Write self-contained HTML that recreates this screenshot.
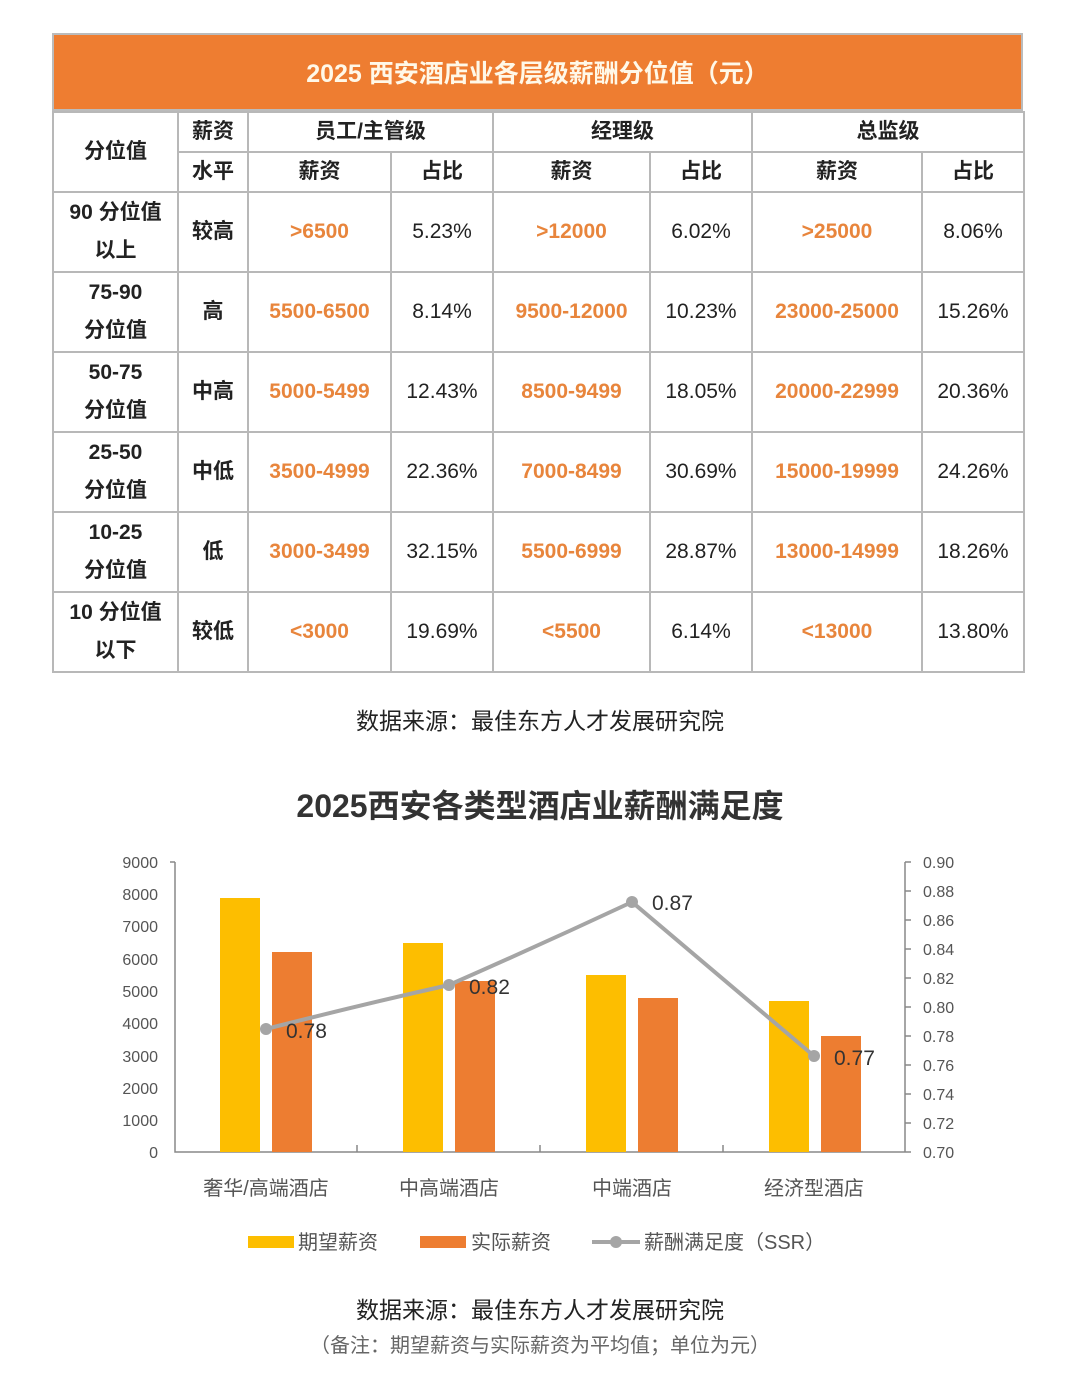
<!DOCTYPE html>
<html><head><meta charset="utf-8"><style>
body{margin:0;background:#fff;width:1080px;height:1385px;position:relative;font-family:"Liberation Sans","Noto Sans CJK SC",sans-serif;overflow:hidden}
.hdr{position:absolute;left:52px;top:33px;width:971px;height:78px;background:#ee7d31;border:2px solid #bbb;box-sizing:border-box;color:#fff8e8;font-weight:bold;font-size:25px;text-align:center;line-height:78px}
table{position:absolute;left:52px;top:111px;border-collapse:collapse;width:972px;table-layout:fixed}
td{border:2px solid #b8b8b8;text-align:center;font-size:21px;color:#222;padding:0;line-height:38px}
td.b{font-weight:bold}
td.o{color:#e8853c;font-weight:bold}
.src{position:absolute;left:0;width:1080px;text-align:center;font-size:23px;color:#222}
</style></head><body>
<div class="hdr">2025 西安酒店业各层级薪酬分位值（元）</div>
<table>
<colgroup><col style="width:125px"><col style="width:70px"><col style="width:143px"><col style="width:102px"><col style="width:157px"><col style="width:102px"><col style="width:170px"><col style="width:102px"></colgroup>
<tr style="height:40px"><td class="b" rowspan="2">分位值</td><td class="b">薪资</td><td class="b" colspan="2">员工/主管级</td><td class="b" colspan="2">经理级</td><td class="b" colspan="2">总监级</td></tr>
<tr style="height:40px"><td class="b">水平</td><td class="b">薪资</td><td class="b">占比</td><td class="b">薪资</td><td class="b">占比</td><td class="b">薪资</td><td class="b">占比</td></tr>
<tr style="height:80px"><td class="b">90 分位值<br>以上</td><td class="b">较高</td><td class="o">&gt;6500</td><td>5.23%</td><td class="o">&gt;12000</td><td>6.02%</td><td class="o">&gt;25000</td><td>8.06%</td></tr>
<tr style="height:80px"><td class="b">75-90<br>分位值</td><td class="b">高</td><td class="o">5500-6500</td><td>8.14%</td><td class="o">9500-12000</td><td>10.23%</td><td class="o">23000-25000</td><td>15.26%</td></tr>
<tr style="height:80px"><td class="b">50-75<br>分位值</td><td class="b">中高</td><td class="o">5000-5499</td><td>12.43%</td><td class="o">8500-9499</td><td>18.05%</td><td class="o">20000-22999</td><td>20.36%</td></tr>
<tr style="height:80px"><td class="b">25-50<br>分位值</td><td class="b">中低</td><td class="o">3500-4999</td><td>22.36%</td><td class="o">7000-8499</td><td>30.69%</td><td class="o">15000-19999</td><td>24.26%</td></tr>
<tr style="height:80px"><td class="b">10-25<br>分位值</td><td class="b">低</td><td class="o">3000-3499</td><td>32.15%</td><td class="o">5500-6999</td><td>28.87%</td><td class="o">13000-14999</td><td>18.26%</td></tr>
<tr style="height:80px"><td class="b">10 分位值<br>以下</td><td class="b">较低</td><td class="o">&lt;3000</td><td>19.69%</td><td class="o">&lt;5500</td><td>6.14%</td><td class="o">&lt;13000</td><td>13.80%</td></tr>
</table>
<div class="src" style="top:702px">数据来源：最佳东方人才发展研究院</div>
<svg style="position:absolute;left:0;top:0" width="1080" height="1385" font-family="Liberation Sans, Noto Sans CJK SC, sans-serif">
<text x="540" y="817" text-anchor="middle" font-size="32" font-weight="bold" fill="#333">2025西安各类型酒店业薪酬满足度</text>
<g font-size="16" fill="#555" text-anchor="end">
<text x="158" y="868">9000</text><text x="158" y="900">8000</text><text x="158" y="932">7000</text><text x="158" y="965">6000</text><text x="158" y="997">5000</text><text x="158" y="1029">4000</text><text x="158" y="1062">3000</text><text x="158" y="1094">2000</text><text x="158" y="1126">1000</text><text x="158" y="1158">0</text>
</g>
<g font-size="16" fill="#555">
<text x="923" y="868">0.90</text><text x="923" y="897">0.88</text><text x="923" y="926">0.86</text><text x="923" y="955">0.84</text><text x="923" y="984">0.82</text><text x="923" y="1013">0.80</text><text x="923" y="1042">0.78</text><text x="923" y="1071">0.76</text><text x="923" y="1100">0.74</text><text x="923" y="1129">0.72</text><text x="923" y="1158">0.70</text>
</g>
<g stroke="#888" stroke-width="1.5" fill="none">
<path d="M175 862V1152H905M170 862H175M357 1152V1145M540 1152V1145M723 1152V1145M905 862V1152M905 862H911M905 891H911M905 920H911M905 949H911M905 978H911M905 1007H911M905 1036H911M905 1065H911M905 1094H911M905 1123H911M905 1152H911"/>
</g>
<g fill="#fdbe00">
<rect x="220" y="898" width="40" height="254"/><rect x="403" y="943" width="40" height="209"/><rect x="586" y="975" width="40" height="177"/><rect x="769" y="1001" width="40" height="151"/>
</g>
<g fill="#ed7d31">
<rect x="272" y="952" width="40" height="200"/><rect x="455" y="981" width="40" height="171"/><rect x="638" y="998" width="40" height="154"/><rect x="821" y="1036" width="40" height="116"/>
</g>
<path d="M266 1029 Q360 1005 449 985 Q540 945 632 902 L814 1056" stroke="#a5a5a5" stroke-width="4" fill="none"/>
<g fill="#a5a5a5"><circle cx="266" cy="1029" r="6"/><circle cx="449" cy="985" r="6"/><circle cx="632" cy="902" r="6"/><circle cx="814" cy="1056" r="6"/></g>
<g font-size="21" fill="#333"><text x="286" y="1038">0.78</text><text x="469" y="994">0.82</text><text x="652" y="910">0.87</text><text x="834" y="1065">0.77</text></g>
<g font-size="20" fill="#555" text-anchor="middle"><text x="266" y="1195">奢华/高端酒店</text><text x="449" y="1195">中高端酒店</text><text x="632" y="1195">中端酒店</text><text x="814" y="1195">经济型酒店</text></g>
<rect x="248" y="1236" width="46" height="12" fill="#fdbe00"/><text x="298" y="1249" font-size="20" fill="#555">期望薪资</text>
<rect x="420" y="1236" width="46" height="12" fill="#ed7d31"/><text x="471" y="1249" font-size="20" fill="#555">实际薪资</text>
<line x1="592" y1="1242" x2="640" y2="1242" stroke="#a5a5a5" stroke-width="4"/><circle cx="616" cy="1242" r="6" fill="#a5a5a5"/><text x="644" y="1249" font-size="20" fill="#555">薪酬满足度（SSR）</text>
</svg>
<div class="src" style="top:1291px">数据来源：最佳东方人才发展研究院</div>
<div class="src" style="top:1329px;font-size:20px;color:#666">（备注：期望薪资与实际薪资为平均值；单位为元）</div>
</body></html>
